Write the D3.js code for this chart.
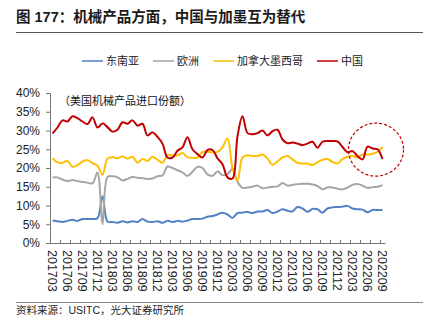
<!DOCTYPE html>
<html>
<head>
<meta charset="utf-8">
<script src="https://cdn.jsdelivr.net/npm/d3@7"></script>
<style>
  body { margin: 0; background: #fff; }
  svg text { font-family: "Liberation Sans", "Noto Sans CJK SC", sans-serif; }
</style>
</head>
<body>
<svg id="chart" width="430" height="333"></svg>
<script>
// monthly categories 201703 .. 202209
var months = [];
for (var yr = 2017; yr <= 2022; yr++) {
    for (var m = 1; m <= 12; m++) {
        if ((yr === 2017 && m < 3) || (yr === 2022 && m > 9)) continue;
        months.push(yr + (m < 10 ? "0" : "") + m);
    }
}

var seriesNames = ["东南亚", "欧洲", "加拿大墨西哥", "中国"];
var seriesColors = ["#4f81c7", "#a5a5a5", "#ffc000", "#c00000"];

// import share, %
var seAsia = [6.0, 5.8, 5.6, 5.9, 6.2, 5.9, 6.4, 6.4, 6.4, 6.6, 12.5, 5.7, 5.6, 5.4, 5.8, 5.5, 5.8,
    5.6, 6.4, 5.7, 5.6, 5.8, 5.4, 5.9, 5.6, 5.9, 5.7, 6.0, 6.4, 6.4, 6.5, 7.0, 7.2, 7.6, 8.1, 7.6,
    6.7, 8.0, 8.1, 8.3, 8.0, 8.4, 8.4, 8.8, 8.0, 8.4, 9.0, 8.6, 8.4, 9.6, 9.2, 8.3, 9.1, 9.0, 8.1,
    9.2, 9.5, 9.6, 9.7, 9.9, 9.2, 9.0, 8.9, 8.2, 8.8, 8.8, 8.8];
var europe = [17.5, 17.5, 16.9, 16.5, 16.8, 16.5, 16.3, 16.1, 15.9, 18.8, 5.0, 17.6, 17.8, 17.5,
    16.7, 17.1, 17.6, 17.4, 17.3, 17.1, 17.2, 17.8, 18.0, 20.4, 20.0, 19.4, 18.8, 17.9, 19.0, 20.3,
    20.0, 18.3, 17.9, 19.1, 18.1, 18.3, 19.8, 16.3, 14.7, 14.8, 15.0, 15.3, 14.6, 14.8, 15.0, 15.1,
    16.0, 15.3, 15.5, 15.7, 15.8, 15.8, 15.6, 15.2, 14.3, 14.8, 14.8, 14.5, 14.3, 14.8, 15.5, 15.7,
    15.3, 14.7, 14.9, 15.0, 15.4];
var canMex = [22.6, 21.5, 21.4, 21.9, 20.3, 20.8, 21.7, 22.1, 21.3, 20.6, 18.2, 22.5, 22.9, 22.6,
    23.1, 22.5, 23.0, 21.4, 22.4, 21.9, 23.0, 22.2, 21.4, 23.5, 23.4, 23.3, 24.0, 22.9, 22.7, 22.8,
    24.3, 24.3, 24.2, 24.3, 25.5, 27.9, 20.0, 16.6, 22.8, 23.4, 23.2, 23.2, 23.6, 22.5, 20.8, 21.8,
    22.8, 23.2, 22.3, 21.4, 21.2, 21.2, 20.8, 21.5, 22.2, 22.4, 21.6, 21.2, 22.4, 23.0, 23.2, 22.8,
    23.6, 23.6, 23.8, 24.3, 25.6];
var china = [29.2, 30.8, 32.7, 32.4, 33.8, 33.3, 32.4, 31.7, 33.5, 30.8, 31.9, 30.9, 29.7, 30.2,
    32.2, 31.8, 32.7, 31.3, 31.8, 28.7, 29.5, 28.3, 26.5, 22.8, 22.8, 24.6, 25.5, 28.2, 25.0, 23.7,
    22.8, 24.8, 24.8, 22.6, 21.0, 17.5, 17.2, 28.5, 33.8, 29.3, 29.0, 29.3, 30.0, 28.7, 29.8, 30.2,
    27.6, 26.6, 26.8, 26.5, 26.1, 26.5, 27.0, 25.4, 27.0, 27.2, 27.2, 27.1, 25.6, 24.2, 24.5, 23.2,
    22.3, 25.7, 25.2, 25.0, 22.4];
var yTicks = [0, 5, 10, 15, 20, 25, 30, 35, 40];

var svg = d3.select("#chart");
var plotLeft = 50, plotRight = 385, plotTop = 93, plotBottom = 243;

var x = d3.scaleLinear().domain([-0.5, months.length - 0.5]).range([plotLeft, plotRight]);
var y = d3.scaleLinear().domain([0, 40]).range([plotBottom, plotTop]);

// title and rules
svg.append("text")
    .attr("x", 16).attr("y", 22)
    .style("font-size", "14.5px").style("font-weight", "bold").style("fill", "#1a1a1a")
    .text("图 177：机械产品方面，中国与加墨互为替代");
svg.append("line")
    .attr("x1", 16).attr("x2", 423).attr("y1", 32.5).attr("y2", 32.5)
    .style("stroke", "#555").style("stroke-width", 1.2);
svg.append("line")
    .attr("x1", 16).attr("x2", 423).attr("y1", 302.5).attr("y2", 302.5)
    .style("stroke", "#888").style("stroke-width", 1);
svg.append("text")
    .attr("x", 16).attr("y", 314)
    .style("font-size", "10.5px").style("fill", "#222")
    .text("资料来源：USITC，光大证券研究所");

// legend
var legendX = [82, 153, 213, 317];
var legend = svg.selectAll(".legend").data(seriesNames).enter().append("g")
    .attr("transform", function(d, i) { return "translate(" + legendX[i] + ",61)"; });
legend.append("line")
    .attr("x1", 0).attr("x2", 21)
    .style("stroke", function(d, i) { return seriesColors[i]; })
    .style("stroke-width", 1.5);
legend.append("text")
    .attr("x", 24).attr("dy", "0.35em")
    .style("font-size", "11px").style("fill", "#222")
    .text(function(d) { return d; });

// y axis
var yAxis = svg.append("g")
    .attr("transform", "translate(" + plotLeft + ",0)")
    .call(d3.axisLeft(y).tickValues(yTicks).tickSize(4).tickPadding(6)
        .tickFormat(function(d) { return d + "%"; }));
yAxis.select(".domain").style("stroke", "#777");
yAxis.selectAll(".tick line").style("stroke", "#777");
yAxis.selectAll("text").style("font-size", "12px").style("fill", "#222")
    .style("font-family", "Liberation Sans, sans-serif");

// x axis: marks every two months, labels every quarter
var tickBounds = d3.range(1.5, months.length, 2);
var xAxis = svg.append("g")
    .attr("transform", "translate(0," + plotBottom + ")")
    .call(d3.axisBottom(x).tickValues(tickBounds).tickSize(-3).tickFormat("").tickSizeOuter(0));
xAxis.select(".domain").style("stroke", "#777");
xAxis.selectAll(".tick line").style("stroke", "#777");

var labelIdx = d3.range(0, months.length, 3);
svg.selectAll(".xlab").data(labelIdx).enter().append("text")
    .attr("transform", function(i) { return "translate(" + x(i) + "," + (plotBottom + 7) + ") rotate(90)"; })
    .attr("dy", "0.35em")
    .style("font-size", "12.5px").style("fill", "#222")
    .style("font-family", "Liberation Sans, sans-serif")
    .text(function(i) { return months[i]; });

// annotation
svg.append("text")
    .attr("x", 59).attr("y", 105)
    .style("font-size", "11px").style("fill", "#111")
    .text("（美国机械产品进口份额）");

// series lines
var allSeries = [seAsia, europe, canMex, china];
var line = d3.line()
    .x(function(d, i) { return x(i); })
    .y(function(d) { return y(d); })
    .curve(d3.curveCatmullRom.alpha(0.5));

svg.selectAll(".series").data(allSeries).enter().append("path")
    .attr("d", line)
    .style("fill", "none")
    .style("stroke", function(d, i) { return seriesColors[i]; })
    .style("stroke-width", 2)
    .style("stroke-linejoin", "round");

// dashed ring around the latest months
svg.append("ellipse")
    .attr("cx", x(64.7)).attr("cy", y(24.9))
    .attr("rx", 27.5).attr("ry", 26.5)
    .style("fill", "none")
    .style("stroke", "#c00000")
    .style("stroke-width", 1.2)
    .style("stroke-dasharray", "3,2");
</script>
</body>
</html>
